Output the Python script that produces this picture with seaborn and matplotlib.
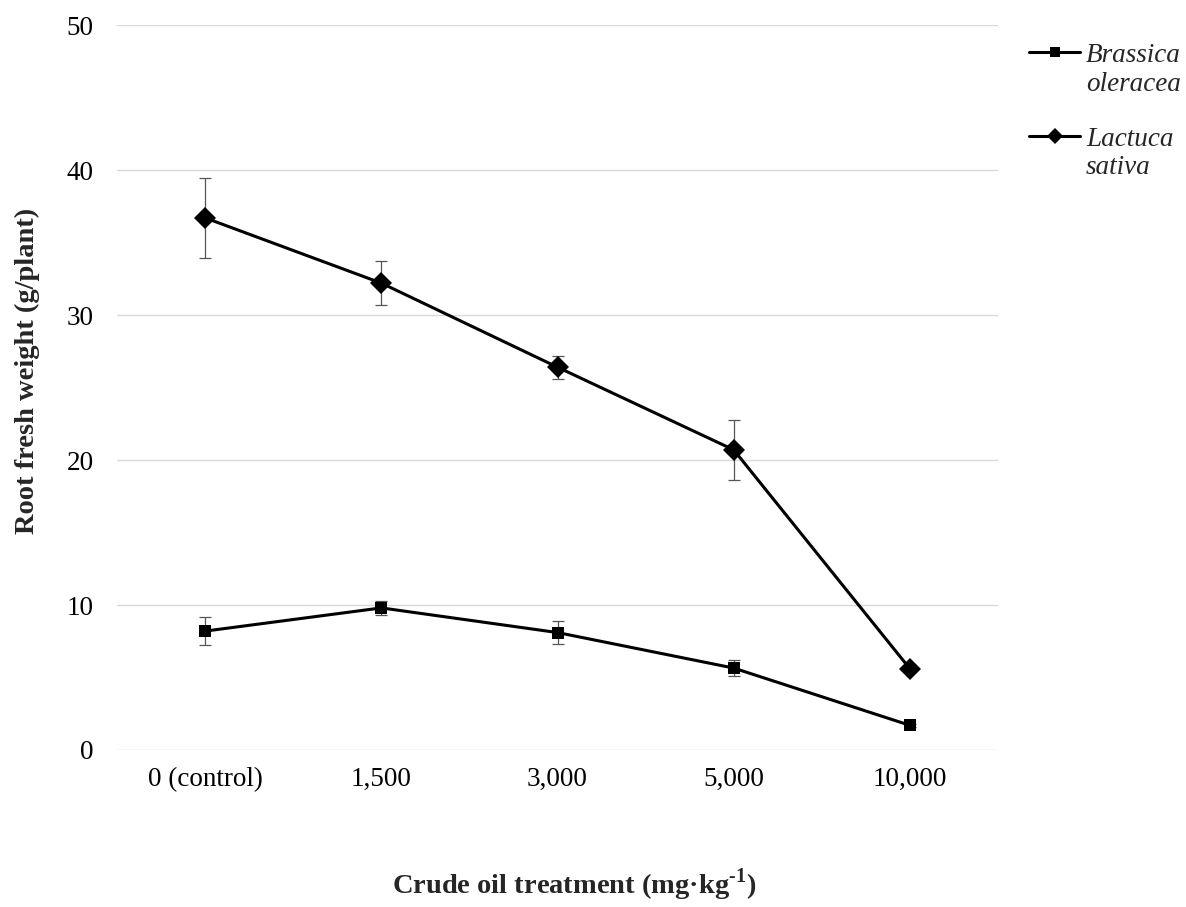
import matplotlib
matplotlib.use("Agg")
import matplotlib.pyplot as plt
import seaborn as sns
import pandas as pd
from matplotlib.lines import Line2D
from matplotlib.legend_handler import HandlerLine2D

categories = ["0 (control)", "1,500", "3,000", "5,000", "10,000"]
brassica = [8.2, 9.8, 8.1, 5.65, 1.7]
brassica_err = [0.95, 0.5, 0.8, 0.55, 0.1]
lactuca = [36.7, 32.2, 26.4, 20.7, 5.6]
lactuca_err = [2.75, 1.5, 0.8, 2.05, 0.0]
series_names = ["Brassica\noleracea", "Lactuca\nsativa"]

sns.set_theme(style="white")
plt.rcParams['font.family'] = ['Liberation Serif', 'DejaVu Serif']
plt.rcParams['mathtext.fontset'] = 'custom'
plt.rcParams['mathtext.rm'] = 'Liberation Serif'
plt.rcParams['mathtext.bf'] = 'Liberation Serif:bold'

df = pd.DataFrame({
    "treatment": categories * 2,
    "value": brassica + lactuca,
    "series": [series_names[0]] * 5 + [series_names[1]] * 5,
})

fig = plt.figure(figsize=(11.86, 9.07), dpi=100)
ax = fig.add_axes([0.0987, 0.1731, 0.8415 - 0.0987, 0.9724 - 0.1731])

# error bars first (under markers)
for vals, errs in [(brassica, brassica_err), (lactuca, lactuca_err)]:
    ax.errorbar(range(len(categories)), vals, yerr=errs, fmt="none",
                ecolor="#555555", elinewidth=0.9, capsize=4.5, capthick=0.9, zorder=2)

sns.lineplot(data=df, x="treatment", y="value", hue="series", style="series",
             markers={series_names[0]: "s", series_names[1]: "D"}, dashes=False,
             palette={series_names[0]: "black", series_names[1]: "black"},
             linewidth=2.2, markersize=9, markeredgewidth=0, sort=False,
             legend=False, ax=ax, zorder=3)
for line in ax.lines:
    if line.get_marker() == "D":
        line.set_markersize(11.5)
    elif line.get_marker() == "s":
        line.set_markersize(8.5)

ax.set_xlim(-0.5, 4.5)
ax.set_ylim(0, 50)
ax.set_yticks([0, 10, 20, 30, 40, 50])
ax.yaxis.grid(True, color="#d9d9d9", linewidth=1)
ax.xaxis.grid(False)
for s in ax.spines.values():
    s.set_visible(False)
ax.tick_params(axis="both", length=0, labelsize=19.5, colors="black")
ax.tick_params(axis="x", pad=12)
ax.tick_params(axis="y", pad=17)
ax.set_xticks(range(len(categories)))
ax.set_xticklabels(categories)

ax.set_xlabel("Crude oil treatment (mg·kg$^{\\mathbf{\u2010 1}}$)", fontsize=20.5,
              fontweight="bold")
ax.xaxis.set_label_coords(0.519, -0.186)
ax.xaxis.label.set_va("center")
ax.set_ylabel("Root fresh weight (g/plant)", fontsize=20.5, fontweight="bold")
ax.yaxis.set_label_coords(-0.102, 0.523)
ax.yaxis.label.set_va("center")


class TopHandler(HandlerLine2D):
    def create_artists(self, legend, orig_handle, xdescent, ydescent,
                       width, height, fontsize, trans):
        return super().create_artists(legend, orig_handle, xdescent,
                                       ydescent - 1.3 * fontsize, width, height,
                                       fontsize, trans)


handles = [Line2D([], [], color="black", lw=2.2, marker="s", markersize=7.5, markeredgewidth=0),
           Line2D([], [], color="black", lw=2.2, marker="D", markersize=8.5, markeredgewidth=0)]
leg = fig.legend(handles, series_names, loc="upper left", bbox_to_anchor=(1029 / 1186, 0.9525),
                 frameon=False, handlelength=1.9, handletextpad=0.2, labelspacing=1.1,
                 borderpad=0, borderaxespad=0,
                 handler_map={Line2D: TopHandler()},
                 prop={"family": "Liberation Serif", "style": "italic", "size": 19.5})

fig.savefig("out.png", dpi=100)
